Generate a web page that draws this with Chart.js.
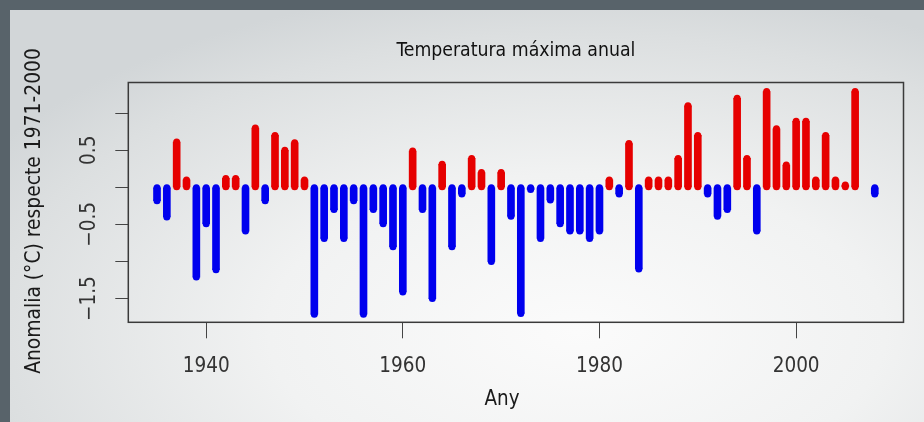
<!DOCTYPE html>
<html><head><meta charset="utf-8">
<script src="https://cdn.jsdelivr.net/npm/chart.js@4.4.1/dist/chart.umd.min.js"></script>
<style>
html,body{margin:0;padding:0;width:924px;height:422px;overflow:hidden;background:#58636a;}
#panel{position:absolute;left:10px;top:10px;width:914px;height:412px;
 background:radial-gradient(ellipse 75% 85% at 62% 78%, #fbfbfb 0%, #f1f2f2 45%, #dcdfe0 85%, #d2d6d8 100%);}
#wrap{position:absolute;left:0;top:0;width:1004px;height:422px;}
</style></head><body>
<div id="panel"></div>
<div id="wrap"><canvas id="c" width="1004" height="422"></canvas></div>
<script>
// ---- data ----
const years = [1935,1936,1937,1938,1939,1940,1941,1942,1943,1944,1945,1946,1947,1948,1949,
 1950,1951,1952,1953,1954,1955,1956,1957,1958,1959,1960,1961,1962,1963,1964,1965,1966,1967,1968,1969,
 1970,1971,1972,1973,1974,1975,1976,1977,1978,1979,1980,1981,1982,1983,1984,1985,1986,1987,1988,1989,
 1990,1991,1992,1993,1994,1995,1996,1997,1998,1999,2000,2001,2002,2003,2004,2005,2006,2007,2008];
const anomalies = [-0.18,-0.40,0.61,0.10,-1.21,-0.49,-1.11,0.12,0.12,-0.59,0.80,-0.18,0.70,0.50,0.60,
 0.10,-1.71,-0.69,-0.30,-0.69,-0.18,-1.71,-0.30,-0.49,-0.80,-1.41,0.49,-0.30,-1.50,0.31,-0.80,-0.09,0.39,0.20,-1.00,
 0.20,-0.39,-1.70,-0.03,-0.69,-0.17,-0.49,-0.59,-0.59,-0.69,-0.59,0.10,-0.09,0.59,-1.10,0.10,0.10,0.10,0.39,1.10,
 0.70,-0.09,-0.39,-0.30,1.20,0.39,-0.59,1.29,0.79,0.30,0.89,0.89,0.10,0.70,0.10,0.03,1.29,null,-0.09];
const xTickValues = [1940,1960,1980,2000];
const yTickValues = [-1.5,-1.0,-0.5,0.0,0.5,1.0];
const yLabelValues = [-1.5,-0.5,0.5];
const titleText = 'Temperatura máxima anual';
const yTitleText = 'Anomalia (°C) respecte 1971-2000';
const xTitleText = 'Any';

// ---- font selection (prefer a narrow face like the original) ----
const mctx = document.createElement('canvas').getContext('2d');
function hasFont(name) {
  const t = 'abcdefghijklmnopqrstuvwxyz0123456789';
  return ['monospace', 'serif'].some(fb => {
    mctx.font = '100px ' + fb; const w0 = mctx.measureText(t).width;
    mctx.font = "100px '" + name + "', " + fb; return mctx.measureText(t).width !== w0;
  });
}
const fontName = ['Liberation Sans Narrow', 'Arial Narrow', 'DejaVu Sans Condensed', 'Roboto Condensed',
  'Liberation Sans', 'Arial'].find(hasFont) || 'sans-serif';
const FONT = "'" + fontName + "', sans-serif";
function sizeFor(text, targetWidth) {
  mctx.font = "100px " + FONT;
  return 100 * targetWidth / mctx.measureText(text).width;
}
function widthAt(text, size) { mctx.font = size + "px " + FONT; return mctx.measureText(text).width; }

const sTitle = sizeFor(titleText, 239);
const sYTitle = sizeFor(yTitleText, 326);
const sTick = sizeFor('1940', 47);
const sXTitle = sizeFor(xTitleText, 35);

// geometry of the plot box in the reference
const AREA_TOP = 82.5, AREA_BOTTOM = 322.3, AREA_LEFT = 128.3, AREA_RIGHT = 903.5, CANVAS_W = 1004, CANVAS_H = 422;
const yTitlePadTop = 35 - 0.6 * sYTitle;
const xTitlePadBottom = 22 - 0.6 * sXTitle;
const subBoxH = 1.2 * sXTitle + xTitlePadBottom;
const xAxisH = CANVAS_H - subBoxH - AREA_BOTTOM;
const yAxisW = AREA_LEFT - (1.2 * sYTitle + yTitlePadTop);
const xTickPad = 366 - AREA_BOTTOM - 16 - 0.547 * sTick;
const yTickPad = Math.max(0, 128.3 - 13 - 90 - widthAt('\u22121.5', sTick) / 2);

const RED = '#e60000', BLUE = '#0000ee';

const capsPlugin = {
  id: 'roundCaps',
  afterDatasetsDraw(chart) {
    const ctx = chart.ctx;
    const meta = chart.getDatasetMeta(0);
    ctx.save();
    meta.data.forEach((el, i) => {
      if (anomalies[i] === null) return;
      const p = el.getProps(['x', 'y', 'base', 'width'], true);
      const r = p.width / 2;
      ctx.fillStyle = el.options.backgroundColor;
      ctx.beginPath(); ctx.arc(p.x, p.y, r, 0, Math.PI * 2); ctx.fill();
      ctx.beginPath(); ctx.arc(p.x, p.base, r, 0, Math.PI * 2); ctx.fill();
    });
    ctx.restore();
  }
};
const boxPlugin = {
  id: 'plotBox',
  afterDraw(chart) {
    const {ctx, chartArea: a} = chart;
    ctx.save();
    ctx.strokeStyle = '#3a3a3a'; ctx.lineWidth = 1.5;
    ctx.strokeRect(a.left, a.top, a.right - a.left, a.bottom - a.top);
    ctx.restore();
  }
};

new Chart(document.getElementById('c'), {
  type: 'bar',
  data: {
    datasets: [{
      data: years.map((yr, i) => ({x: yr, y: anomalies[i]})),
      backgroundColor: c => (c.raw && c.raw.y < 0) ? BLUE : RED,
      barThickness: 7,
      borderWidth: 0
    }]
  },
  options: {
    responsive: false,
    animation: false,
    layout: {padding: 0},
    plugins: {
      legend: {display: false},
      tooltip: {enabled: false},
      title: {display: true, position: 'left', text: yTitleText, color: '#1a1a1a',
        font: {family: FONT, size: sYTitle, weight: 'normal'}, padding: {top: yTitlePadTop, bottom: 0}},
      subtitle: {display: true, position: 'bottom', text: xTitleText, color: '#1a1a1a',
        font: {family: FONT, size: sXTitle, weight: 'normal'}, padding: {top: 0, bottom: xTitlePadBottom}}
    },
    scales: {
      x: {
        type: 'linear', position: 'bottom', min: 1932.08, max: 2010.92,
        offset: false,
        afterBuildTicks: s => { s.ticks = xTickValues.map(v => ({value: v})); },
        ticks: {callback: v => String(v), color: '#333', font: {family: FONT, size: sTick}, padding: xTickPad, maxRotation: 0},
        grid: {display: true, drawOnChartArea: false, drawTicks: true, tickLength: 16, color: '#444', offset: false},
        border: {display: false},
        afterFit: s => { s.height = xAxisH; s.paddingLeft = 0; s.paddingRight = 0; }
      },
      x2: {
        type: 'linear', position: 'top', min: 1932.08, max: 2010.92,
        ticks: {display: false}, grid: {display: false}, border: {display: false},
        title: {display: true, text: titleText, color: '#111', font: {family: FONT, size: sTitle},
          padding: {top: 51 - 0.6 * sTitle, bottom: 0}},
        afterFit: s => { s.height = AREA_TOP; s.paddingLeft = 0; s.paddingRight = 0; }
      },
      y: {
        type: 'linear', position: 'left', min: -1.82, max: 1.413,
        afterBuildTicks: s => { s.ticks = yTickValues.map(v => ({value: v})); },
        ticks: {callback: v => yLabelValues.includes(v) ? String(v).replace('-', '\u2212') : '',
          color: '#333', font: {family: FONT, size: sTick}, padding: yTickPad, minRotation: 90, maxRotation: 90, crossAlign: 'center'},
        grid: {display: true, drawOnChartArea: false, drawTicks: true, tickLength: 13, color: '#444'},
        border: {display: false},
        afterFit: s => { s.width = yAxisW; s.paddingTop = 0; s.paddingBottom = 0; }
      },
      y2: {
        type: 'linear', position: 'right', display: true, min: -1.82, max: 1.413,
        ticks: {display: false}, grid: {display: false}, border: {display: false},
        afterFit: s => { s.width = CANVAS_W - AREA_RIGHT; s.paddingTop = 0; s.paddingBottom = 0; }
      }
    }
  },
  plugins: [capsPlugin, boxPlugin]
});
</script>
</body></html>
